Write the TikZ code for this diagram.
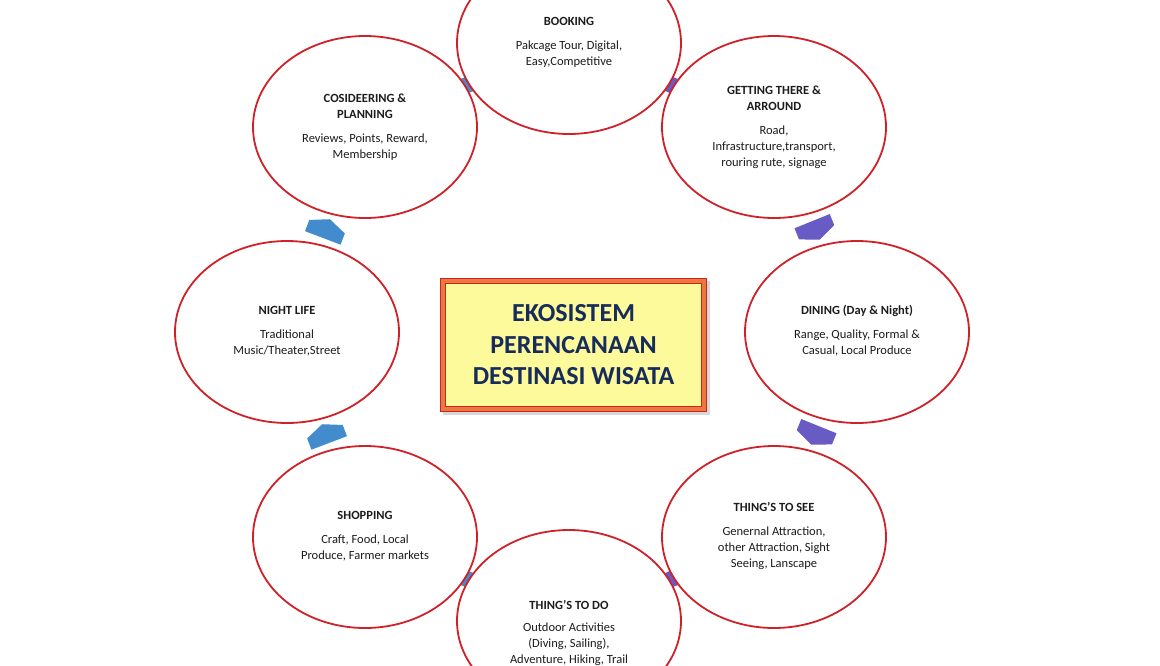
\documentclass[tikz,border=0pt]{standalone}
\usepackage{fontspec}
\setmainfont{Carlito}
\usetikzlibrary{shapes.geometric,calc}
\definecolor{ered}{RGB}{206,34,40}
\definecolor{eblue}{RGB}{66,140,205}
\definecolor{epurple}{RGB}{104,92,196}
\definecolor{eyellow}{RGB}{252,250,155}
\definecolor{eorange}{RGB}{234,122,60}
\definecolor{enavy}{RGB}{24,44,92}
\definecolor{etext}{RGB}{28,28,28}
% #1 from, #2 to, #3 colour, #4 half width
\newcommand\flowarrow[4]{%
  \path let \p1=($(#1)!0.5!(#2)$), \p2=($(#2)-(#1)$), \n1={atan2(\y2,\x2)} in
    \pgfextra{\xdef\fmx{\x1}\xdef\fmy{\y1}\xdef\fang{\n1}};
  \fill[#3, shift={(\fmx,\fmy)}, rotate=\fang]
    (-9,-#4) -- (3,-#4) -- (11,0) -- (3,#4) -- (-9,#4) -- cycle;}
\begin{document}
\begin{tikzpicture}[x=1pt,y=-1pt,
  bubble/.style={ellipse, draw=ered, line width=1.8pt, fill=white,
    minimum width=224pt, minimum height=182pt, inner sep=0pt},
  bubbletext/.style={align=center, text=etext,
    font=\fontsize{12.5}{16}\selectfont, inner sep=0pt}]
\useasboundingbox (0,0) rectangle (1160,665);
\fill[white] (0,0) rectangle (1160,665);
% anchor coordinates for the ellipses
\coordinate (cBook) at (569,43);
\coordinate (cGet) at (774,127);
\coordinate (cDine) at (857,332);
\coordinate (cSee) at (774,537);
\coordinate (cDo) at (569,621);
\coordinate (cShop) at (365,537);
\coordinate (cNight) at (287,332);
\coordinate (cPlan) at (365,127);
% flow arrows (drawn first, partly hidden by ellipses)
\flowarrow{cPlan}{cBook}{eblue}{8}
\flowarrow{cBook}{cGet}{epurple}{8}
\flowarrow{cGet}{cDine}{epurple}{19}
\flowarrow{cDine}{cSee}{epurple}{19}
\flowarrow{cSee}{cDo}{epurple}{8}
\flowarrow{cDo}{cShop}{eblue}{8}
\flowarrow{cShop}{cNight}{eblue}{19}
\flowarrow{cNight}{cPlan}{eblue}{19}
% ellipses
\node[bubble] (book) at (cBook) {};
\node[bubble] (get) at (cGet) {};
\node[bubble] (dine) at (cDine) {};
\node[bubble] (see) at (cSee) {};
\node[bubble] (do) at (cDo) {};
\node[bubble] (shop) at (cShop) {};
\node[bubble] (night) at (cNight) {};
\node[bubble] (plan) at (cPlan) {};
% texts
\node[bubbletext] (tBook) at (569,42) {\textbf{BOOKING}\\[8pt]Pakcage Tour, Digital,\\Easy,Competitive};
\node[bubbletext] (tPlan) at (365,127) {\textbf{COSIDEERING \&}\\\textbf{PLANNING}\\[8pt]Reviews, Points, Reward,\\Membership};
\node[bubbletext] (tGet) at (774,127) {\textbf{GETTING THERE \&}\\\textbf{ARROUND}\\[8pt]Road,\\Infrastructure,transport,\\rouring rute, signage};
\node[bubbletext] (tDine) at (857,331) {\textbf{DINING (Day \& Night)}\\[8pt]Range, Quality, Formal \&\\Casual, Local Produce};
\node[bubbletext] (tNight) at (287,331) {\textbf{NIGHT LIFE}\\[8pt]Traditional\\Music/Theater,Street};
\node[bubbletext] (tShop) at (365,536) {\textbf{SHOPPING}\\[8pt]Craft, Food, Local\\Produce, Farmer markets};
\node[bubbletext] (tSee) at (774,536) {\textbf{THING’S TO SEE}\\[8pt]Genernal Attraction,\\other Attraction, Sight\\Seeing, Lanscape};
\node[bubbletext] (tDo) at (569,633) {\textbf{THING’S TO DO}\\[6pt]Outdoor Activities\\(Diving, Sailing),\\Adventure, Hiking, Trail};
% central box
\fill[black!30, opacity=0.5] (442.5,281) rectangle (709.5,415);
\node[draw=ered, fill=eorange, line width=1.4pt, minimum width=266pt, minimum height=133pt, inner sep=0pt] (box) at (573.5,345) {};
\node[draw=ered, fill=eyellow, line width=1.2pt, minimum width=256pt, minimum height=123pt, inner sep=0pt] (boxin) at (box.center) {};
\node[align=center, text=enavy, font=\fontsize{26}{31.5}\selectfont\bfseries, inner sep=0pt] (title) at (573.5,345) {EKOSISTEM\\PERENCANAAN\\DESTINASI WISATA};
\end{tikzpicture}
\end{document}
